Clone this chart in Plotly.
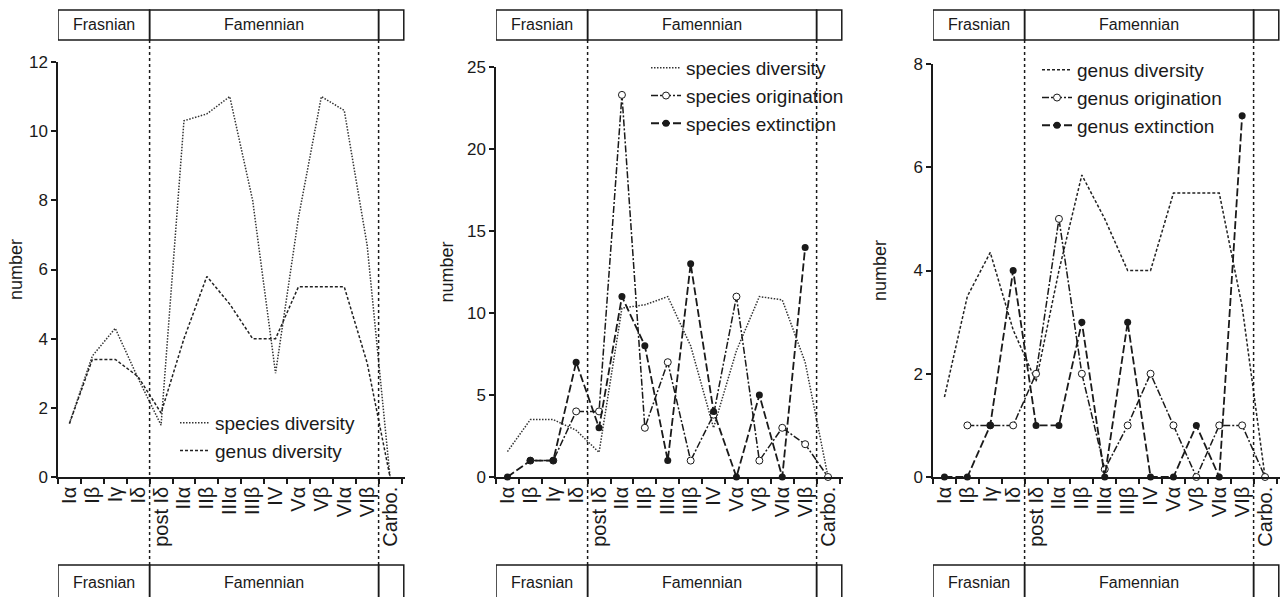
import plotly.graph_objects as go

stages = ["Iα", "Iβ", "Iγ", "Iδ", "post Iδ", "IIα", "IIβ", "IIIα", "IIIβ",
          "IV", "Vα", "Vβ", "VIα", "VIβ", "Carbo."]

species_diversity = [1.55, 3.5, 3.5, 2.85, 1.5, 10.3, 10.5, 11.0, 8.0, 3.0, 7.7, 11.0, 10.8, 7.0, 0.0]
genus_diversity = [1.55, 3.5, 4.35, 2.85, 1.85, 4.0, 5.85, 5.0, 4.0, 4.0, 5.5, 5.5, 5.5, 3.3, 0.0]
species_diversity_p1 = [1.55, 3.5, 4.3, 2.85, 1.5, 10.3, 10.5, 11.0, 8.0, 3.0, 7.5, 11.0, 10.6, 6.7, 0.0]
genus_diversity_p1 = [1.55, 3.4, 3.4, 2.9, 1.85, 4.0, 5.8, 5.0, 4.0, 4.0, 5.5, 5.5, 5.5, 3.3, 0.0]

species_origination = [None, 1, 1, 4, 4, 23.3, 3, 7, 1, 3.8, 11, 1, 3, 2, 0]
species_extinction = [0, 1, 1, 7, 3, 11, 8, 1, 13, 4, 0, 5, 0, 14, None]

genus_origination = [None, 1, 1, 1, 2, 5, 2, 0.15, 1, 2, 1, 0, 1, 1, 0]
genus_extinction = [0, 0, 1, 4, 1, 1, 3, 0, 3, 0, 0, 1, 0, 7, None]

x = list(range(len(stages)))

FONT = "Arial, Liberation Sans, sans-serif"
INK = "#1a1a1a"
W, H = 1284, 597

def px_x(p):
    return p / W

def px_y(p):
    return 1 - p / H

DOT = "1.5px,1.5px"
SDASH = "3px,2px"
DASHDOT = "7px,2px,2px,2px"
LDASH = "8px,3px"

fig = go.Figure()

# panel 1
fig.add_trace(go.Scatter(x=x, y=species_diversity_p1, mode="lines", name="species diversity",
                         line=dict(color="#333", width=1.5, dash=DOT),
                         xaxis="x", yaxis="y", legend="legend"))
fig.add_trace(go.Scatter(x=x, y=genus_diversity_p1, mode="lines", name="genus diversity",
                         line=dict(color="#222", width=1.5, dash=SDASH),
                         xaxis="x", yaxis="y", legend="legend"))

# panel 2
fig.add_trace(go.Scatter(x=x, y=species_diversity, mode="lines", name="species diversity",
                         line=dict(color="#333", width=1.5, dash=DOT),
                         xaxis="x2", yaxis="y2", legend="legend2"))
fig.add_trace(go.Scatter(x=x, y=species_origination, mode="lines+markers", name="species origination",
                         line=dict(color=INK, width=1.5, dash=DASHDOT),
                         marker=dict(symbol="circle", size=7, color="white", line=dict(color=INK, width=1)),
                         cliponaxis=False, xaxis="x2", yaxis="y2", legend="legend2"))
fig.add_trace(go.Scatter(x=x, y=species_extinction, mode="lines+markers", name="species extinction",
                         line=dict(color=INK, width=1.8, dash=LDASH),
                         marker=dict(symbol="circle", size=7, color=INK),
                         cliponaxis=False, xaxis="x2", yaxis="y2", legend="legend2"))

# panel 3
fig.add_trace(go.Scatter(x=x, y=genus_diversity, mode="lines", name="genus diversity",
                         line=dict(color="#222", width=1.5, dash=SDASH),
                         xaxis="x3", yaxis="y3", legend="legend3"))
fig.add_trace(go.Scatter(x=x, y=genus_origination, mode="lines+markers", name="genus origination",
                         line=dict(color=INK, width=1.5, dash=DASHDOT),
                         marker=dict(symbol="circle", size=7, color="white", line=dict(color=INK, width=1)),
                         cliponaxis=False, xaxis="x3", yaxis="y3", legend="legend3"))
fig.add_trace(go.Scatter(x=x, y=genus_extinction, mode="lines+markers", name="genus extinction",
                         line=dict(color=INK, width=1.8, dash=LDASH),
                         marker=dict(symbol="circle", size=7, color=INK),
                         cliponaxis=False, xaxis="x3", yaxis="y3", legend="legend3"))

panels = [
    # (x-axis key, y-axis key, left px, top px of ymax, ymax, dtick, title standoff)
    ("x", "y", 58, 62, 12, 2, 2),
    ("x2", "y2", 496, 67, 25, 5, 9),
    ("x3", "y3", 933, 64, 8, 2, 22),
]
CAT_PX = 22.9
XR = [-0.5, 14.65]
span_px = (XR[1] - XR[0]) * CAT_PX
bottom_px = 477

layout = dict(
    width=W, height=H,
    margin=dict(l=0, r=0, t=0, b=0, pad=0, autoexpand=False),
    paper_bgcolor="white", plot_bgcolor="white",
    font=dict(family=FONT, color=INK, size=17),
    shapes=[], annotations=[],
)

bounds = [b - 0.5 for b in range(len(stages) + 1)]

for xa, ya, left, top, ymax, dt, so in panels:
    xkey = "xaxis" if xa == "x" else "xaxis" + xa[1:]
    ykey = "yaxis" if ya == "y" else "yaxis" + ya[1:]
    layout[xkey] = dict(
        domain=[px_x(left), px_x(left + span_px)], anchor=ya, range=XR,
        tickmode="array", tickvals=x, ticktext=stages, tickangle=-90,
        ticks="", showline=True, linecolor=INK, linewidth=1.5, automargin=False,
        showgrid=False, zeroline=False, tickfont=dict(size=20, family=FONT, color=INK),
        minor=dict(tickmode="array", tickvals=bounds, ticks="outside", ticklen=5,
                   tickwidth=1.5, tickcolor=INK, showgrid=False),
        ticklabelstandoff=0,
    )
    layout[ykey] = dict(
        domain=[px_y(bottom_px), px_y(top)], anchor=xa, range=[0, ymax],
        dtick=dt, tick0=0, ticks="outside", ticklen=5, tickwidth=1.5, tickcolor=INK,
        showline=True, linecolor=INK, linewidth=1.5, showgrid=False, zeroline=False,
        automargin=False,
        tickfont=dict(size=17, family=FONT, color=INK),
        title=dict(text="number", font=dict(size=18, family=FONT, color=INK), standoff=so),
    )
    # period boxes (top and bottom) and dotted boundaries
    for (y0, y1, ty) in [(10, 40, 25), (565, 605, 582)]:
        for (a, b) in [(-0.5, 3.5), (3.5, 13.5), (13.5, 14.6)]:
            layout["shapes"].append(dict(type="rect", xref=xa, yref="paper",
                                         x0=a, x1=b, y0=px_y(y1), y1=px_y(y0),
                                         line=dict(color=INK, width=1.5), fillcolor="rgba(0,0,0,0)"))
        for (a, b, txt) in [(-0.5, 3.5, "Frasnian"), (3.5, 13.5, "Famennian")]:
            layout["annotations"].append(dict(xref=xa, yref="paper", x=(a + b) / 2, y=px_y(ty),
                                              text=txt, showarrow=False, yanchor="middle",
                                              font=dict(size=16, family=FONT, color=INK)))
    for b in (3.5, 13.5):
        layout["shapes"].append(dict(type="line", xref=xa, yref="paper", x0=b, x1=b,
                                     y0=px_y(565), y1=px_y(40),
                                     line=dict(color=INK, width=1.5, dash="dot")))

leg_common = dict(xanchor="left", yanchor="top", bgcolor="rgba(0,0,0,0)",
                  font=dict(size=19, family=FONT, color=INK), itemwidth=30,
                  tracegroupgap=0)
layout["legend"] = dict(x=px_x(175), y=px_y(404), **leg_common)
layout["legend2"] = dict(x=px_x(646), y=px_y(49), **leg_common)
layout["legend3"] = dict(x=px_x(1037), y=px_y(51), **leg_common)
layout["showlegend"] = True

fig.update_layout(**layout)
fig.write_html("out.html", config={"displayModeBar": False},
               post_script="document.body.style.margin='0px';document.body.style.overflow='hidden';")
